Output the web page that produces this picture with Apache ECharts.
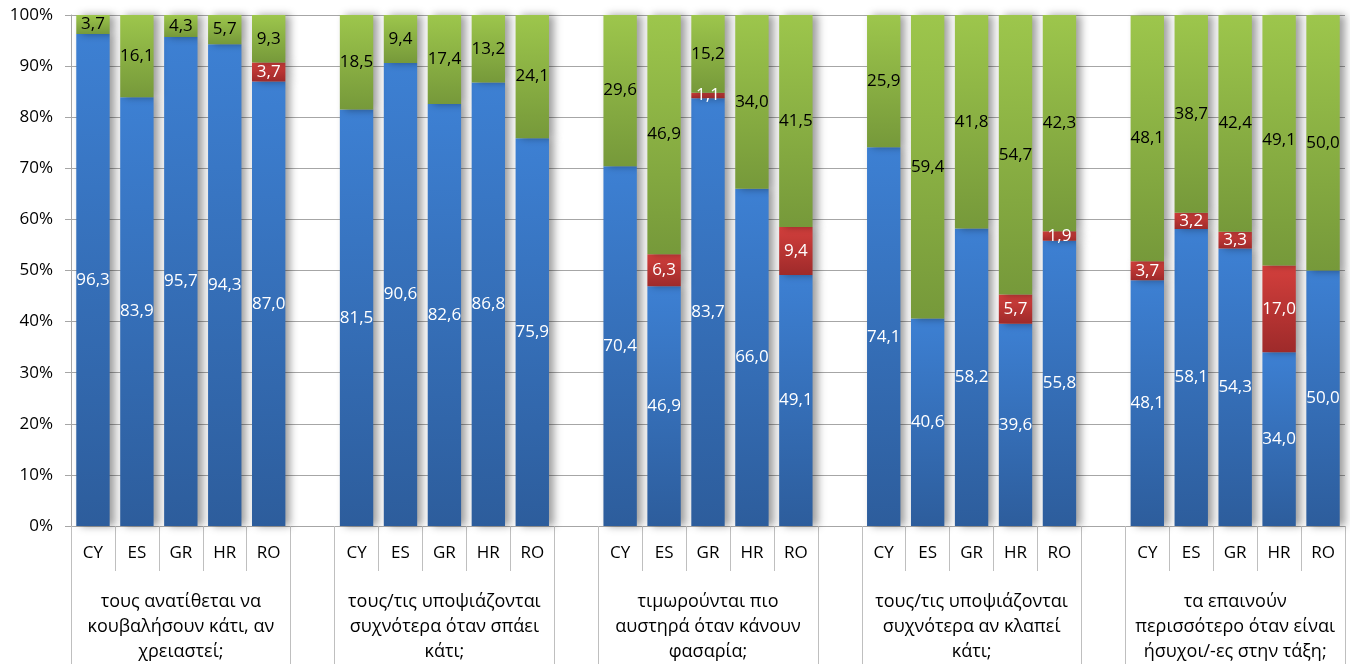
<!DOCTYPE html>
<html>
<head>
<meta charset="utf-8">
<script src="https://cdn.jsdelivr.net/npm/echarts@6/dist/echarts.min.js"></script>
<style>
html,body{margin:0;padding:0;background:#fff;}
#chart{width:1350px;height:664px;}
</style>
</head>
<body>
<div id="chart"></div>
<script>
const countries = ['CY', 'ES', 'GR', 'HR', 'RO'];
const questions = [
  'τους ανατίθεται να\nκουβαλήσουν κάτι, αν\nχρειαστεί;',
  'τους/τις υποψιάζονται\nσυχνότερα όταν σπάει\nκάτι;',
  'τιμωρούνται πιο\nαυστηρά όταν κάνουν\nφασαρία;',
  'τους/τις υποψιάζονται\nσυχνότερα αν κλαπεί\nκάτι;',
  'τα επαινούν\nπερισσότερο όταν είναι\nήσυχοι/-ες στην τάξη;'
];
// values per question, in country order CY, ES, GR, HR, RO
const blueValues = [
  [96.3, 83.9, 95.7, 94.3, 87.0],
  [81.5, 90.6, 82.6, 86.8, 75.9],
  [70.4, 46.9, 83.7, 66.0, 49.1],
  [74.1, 40.6, 58.2, 39.6, 55.8],
  [48.1, 58.1, 54.3, 34.0, 50.0]
];
const redValues = [
  [null, null, null, null, 3.7],
  [null, null, null, null, null],
  [null, 6.3, 1.1, null, 9.4],
  [null, null, null, 5.7, 1.9],
  [3.7, 3.2, 3.3, 17.0, null]
];
const greenValues = [
  [3.7, 16.1, 4.3, 5.7, 9.3],
  [18.5, 9.4, 17.4, 13.2, 24.1],
  [29.6, 46.9, 15.2, 34.0, 41.5],
  [25.9, 59.4, 41.8, 54.7, 42.3],
  [48.1, 38.7, 42.4, 49.1, 50.0]
];

// build slot arrays (one empty slot between question groups)
const cats = [], groupCats = [], blue = [], red = [], green = [];
const groupTickIdx = [];
questions.forEach((q, g) => {
  groupTickIdx.push(cats.length);
  countries.forEach((c, i) => {
    cats.push(c);
    groupCats.push(i === 2 ? q : '');
    blue.push(blueValues[g][i]);
    red.push(redValues[g][i]);
    green.push(greenValues[g][i]);
  });
  if (g < questions.length - 1) {
    groupTickIdx.push(cats.length);
    cats.push('');
    groupCats.push('');
    blue.push(null); red.push(null); green.push(null);
  }
});

const FONT = '"Open Sans", "Noto Sans", sans-serif';
const fmt = p => (p.value == null ? '' : Number(p.value).toFixed(1).replace('.', ','));
const grad = (a, b) => ({
  type: 'linear', x: 0, y: 0, x2: 0, y2: 1,
  colorStops: [{ offset: 0, color: a }, { offset: 1, color: b }]
});
const shadow = { shadowColor: 'rgba(0,0,0,0.38)', shadowBlur: 8, shadowOffsetX: 5, shadowOffsetY: 0 };

function makeSeries(name, data, c1, c2, labelColor) {
  return {
    name, type: 'bar', stack: 'total', data,
    xAxisIndex: 0, barWidth: '76%',
    itemStyle: Object.assign({ color: grad(c1, c2) }, shadow),
    label: {
      show: true, position: 'inside', formatter: fmt,
      color: labelColor, fontFamily: FONT, fontSize: 17
    },
    emphasis: { disabled: true },
    animation: false
  };
}

const chart = echarts.init(document.getElementById('chart'));
chart.setOption({
  animation: false,
  grid: { left: 71, right: 5, top: 15, bottom: 137, containLabel: false },
  xAxis: [
    {
      type: 'category', data: cats, position: 'bottom',
      axisLine: { show: true, lineStyle: { color: '#a6a6a6', width: 1 } },
      axisTick: { show: true, interval: 0, length: 45, lineStyle: { color: '#bfbfbf' } },
      axisLabel: { interval: 0, margin: 19, color: '#000', fontFamily: FONT, fontSize: 17 }
    },
    {
      type: 'category', data: groupCats, position: 'bottom', offset: 0,
      axisLine: { show: false },
      axisTick: {
        show: true, length: 140,
        interval: (i) => groupTickIdx.indexOf(i) >= 0,
        lineStyle: { color: '#bfbfbf' }
      },
      axisLabel: {
        interval: 0, margin: 63, color: '#000', fontFamily: FONT, fontSize: 18,
        lineHeight: 25, align: 'center'
      }
    }
  ],
  yAxis: {
    type: 'value', min: 0, max: 100, interval: 10,
    axisLine: { show: true, lineStyle: { color: '#a6a6a6' } },
    axisTick: { show: true, length: 6, lineStyle: { color: '#a6a6a6' } },
    axisLabel: { formatter: '{value}%', margin: 18, color: '#000', fontFamily: FONT, fontSize: 17 },
    splitLine: { show: true, lineStyle: { color: '#a6a6a6', width: 1 } }
  },
  series: [
    makeSeries('blue', blue, '#3d80d3', '#2d5d9c', '#fff'),
    makeSeries('red', red, '#d33f3c', '#9e2a2a', '#fff'),
    makeSeries('green', green, '#9dc64c', '#76993a', '#000')
  ]
});
</script>
</body>
</html>
